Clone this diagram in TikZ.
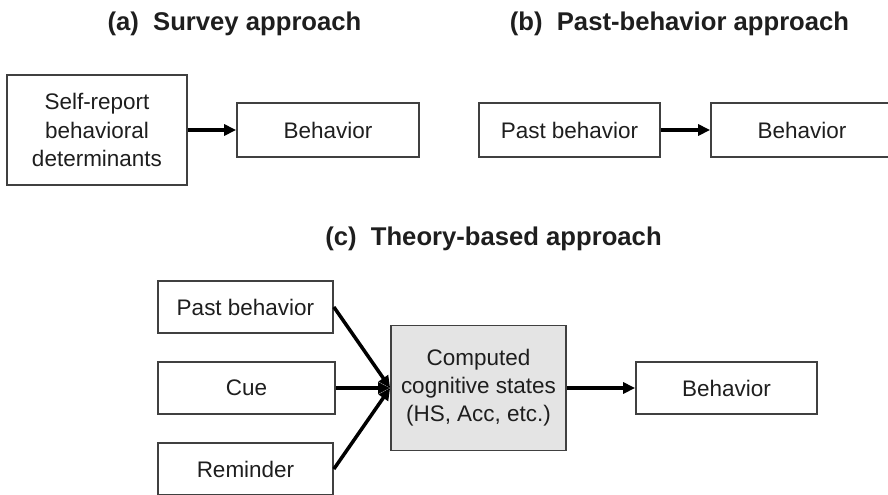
\documentclass[tikz,border=0pt]{standalone}
\usepackage{fontspec}
\setmainfont{Liberation Sans}
\usetikzlibrary{arrows.meta}
\definecolor{boxline}{HTML}{404040}
\definecolor{boxtext}{HTML}{1E1E1E}
\definecolor{boxfill}{HTML}{E4E4E4}
\tikzset{
	box/.style={draw=boxline, line width=1pt, text=boxtext, align=center, inner sep=0pt,
		font=\fontsize{12.8}{16}\selectfont},
	arr/.style={-{Triangle[length=2.4mm,width=2.2mm]}, line width=2pt},
	title/.style={font=\bfseries\fontsize{14.6}{17}\selectfont, text=boxtext}
}

\begin{document}
\begin{tikzpicture}[x=0.02cm, y=-0.02cm]
			%%%%% START %%%%%
			\clip (0, 0) rectangle (888, 494);
			
			% (a)
			\node[title] (ta) at (234.5, 24) {(a)\ \ Survey approach};
			\node[box, minimum width=3.6cm, minimum height=2.2cm] (selfrep) at (97, 130) {Self-report\\behavioral\\determinants};
			\node[box, minimum width=3.64cm, minimum height=1.08cm] (behA) at (328, 130) {Behavior};
			\draw[arr] (selfrep) -- (behA);
			
			% (b)
			\node[title] (tb) at (679.5, 24) {(b)\ \ Past-behavior approach};
			\node[box, minimum width=3.62cm, minimum height=1.08cm] (pastB) at (569.5, 130) {Past behavior};
			\node[box, minimum width=3.64cm, minimum height=1.08cm] (behB) at (802, 130) {Behavior};
			\draw[arr] (pastB) -- (behB);
			
			% (c)
			\node[title] (tc) at (493.5, 239) {(c)\ \ Theory-based approach};
			\node[box, minimum width=3.5cm, minimum height=1.04cm] (pastC) at (245.5, 307) {Past behavior};
			\node[box, minimum width=3.54cm, minimum height=1.04cm] (cue) at (246.5, 388) {Cue};
			\node[box, minimum width=3.5cm, minimum height=1.04cm] (remind) at (245.5, 469) {Reminder};
			\node[box, fill=boxfill, minimum width=3.5cm, minimum height=2.5cm] (comp) at (478.5, 388) {Computed\\cognitive states\\(HS, Acc, etc.)};
			\node[box, minimum width=3.62cm, minimum height=1.04cm] (behC) at (726.5, 388) {Behavior};
			
			\draw[arr] (pastC.east) -- (comp.west);
			\draw[arr] (cue) -- (comp);
			\draw[arr] (remind.east) -- (comp.west);
			\draw[arr] (comp) -- (behC);
			%%%%% END %%%%%
\end{tikzpicture}
\end{document}
